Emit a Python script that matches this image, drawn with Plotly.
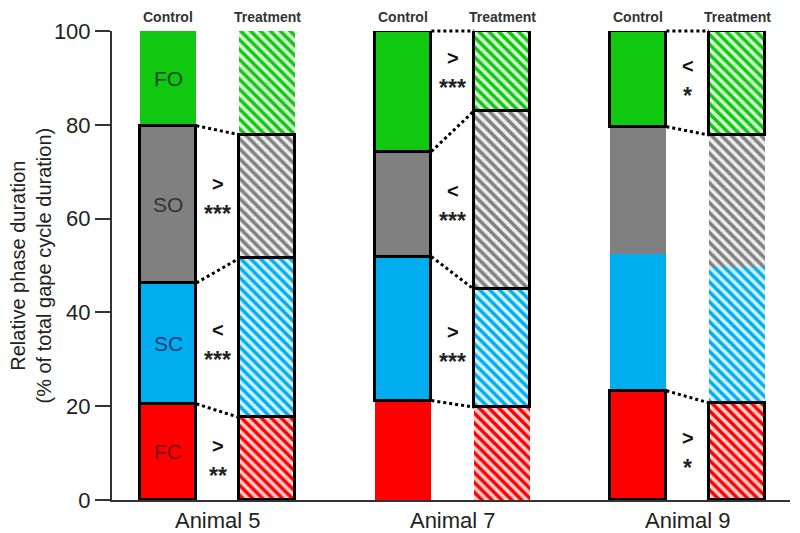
import plotly.graph_objects as go

# ---------------- data ----------------
animals = ["Animal 5", "Animal 7", "Animal 9"]
conditions = ["Control", "Treatment"]
phases = ["FC", "SC", "SO", "FO"]

# phase durations (% of total gape cycle duration), per animal
fc_control = [20.5, 21.2, 23.3]
sc_control = [25.8, 30.7, 29.1]
so_control = [33.5, 22.4, 27.2]
fo_control = [20.2, 25.7, 20.4]

fc_treatment = [17.6, 19.8, 20.7]
sc_treatment = [33.9, 25.1, 29.0]
so_treatment = [26.4, 38.1, 28.1]
fo_treatment = [22.1, 17.0, 22.2]

# comparison (control vs treatment) and significance per phase, per animal
fc_cmp = [">", "", ">"]
fc_sig = ["**", "", "*"]
sc_cmp = ["<", ">", ""]
sc_sig = ["***", "***", ""]
so_cmp = [">", "<", ""]
so_sig = ["***", "***", ""]
fo_cmp = ["", ">", "<"]
fo_sig = ["", "***", "*"]

y_ticks = [0, 20, 40, 60, 80, 100]

# ---------------- styling ----------------
FONT = "Liberation Sans, Arial, sans-serif"
colors = {"FC": "#FF0000", "SC": "#00AEEF", "SO": "#808080", "FO": "#10C810"}
tints = {"FC": "#FFD2D2", "SC": "#D2F2FF", "SO": "#EDEDED", "FO": "#D6F6D6"}
label_colors = {"FC": "#7A0A0A", "SC": "#1B3A78", "SO": "#333333", "FO": "#0B4A0B"}

ctrl = [fc_control, sc_control, so_control, fo_control]
treat = [fc_treatment, sc_treatment, so_treatment, fo_treatment]
cmps = [fc_cmp, sc_cmp, so_cmp, fo_cmp]
sigs = [fc_sig, sc_sig, so_sig, fo_sig]

n = len(animals)
group_pos = list(range(n))
offset = 0.21
bar_w = 0.238
xc = [g - offset for g in group_pos]
xt = [g + offset for g in group_pos]
y_range = [0, 100]


def to_paper(v):
    return (v - y_range[0]) / (y_range[1] - y_range[0])


def stack_bases(segs):
    out, run = [], [0.0] * n
    for s in segs:
        out.append(run[:])
        run = [r + v for r, v in zip(run, s)]
    return out


ctrl_base = stack_bases(ctrl)
treat_base = stack_bases(treat)

fig = go.Figure()

# fills
for i, ph in enumerate(phases):
    fig.add_trace(go.Bar(
        x=xc, y=ctrl[i], base=ctrl_base[i], width=bar_w,
        marker=dict(color=colors[ph], line=dict(width=0)),
        cliponaxis=False, showlegend=False, hoverinfo="skip"))
    fig.add_trace(go.Bar(
        x=xt, y=treat[i], base=treat_base[i], width=bar_w,
        marker=dict(color=tints[ph], line=dict(width=0),
                    pattern=dict(shape="\\", fgcolor=colors[ph], bgcolor=tints[ph],
                                 size=7, solidity=0.5, fillmode="replace")),
        cliponaxis=False, showlegend=False, hoverinfo="skip"))

# outlines for significant phases
for i, ph in enumerate(phases):
    widths = [3 if cmps[i][k] else 0 for k in range(n)]
    fig.add_trace(go.Bar(
        x=xc + xt, y=ctrl[i] + treat[i], base=ctrl_base[i] + treat_base[i],
        width=bar_w,
        marker=dict(color="rgba(0,0,0,0)", line=dict(color="black", width=widths + widths)),
        cliponaxis=False, showlegend=False, hoverinfo="skip"))

# dotted connectors between boundaries of significant phases
for k in range(n):
    bidx = set()
    for i in range(len(phases)):
        if cmps[i][k]:
            bidx.add(i)
            if i > 0:
                bidx.add(i - 1)
    for j in sorted(bidx):
        yc_ = ctrl_base[j][k] + ctrl[j][k]
        yt_ = treat_base[j][k] + treat[j][k]
        fig.add_shape(type="line", xref="x", yref="paper",
                      x0=xc[k] + bar_w / 2, y0=to_paper(yc_),
                      x1=xt[k] - bar_w / 2, y1=to_paper(yt_),
                      line=dict(color="black", width=3, dash="dot"))

# significance annotations
for k in range(n):
    for i in range(len(phases)):
        if not cmps[i][k]:
            continue
        lo = max(ctrl_base[i][k], treat_base[i][k])
        hi = min(ctrl_base[i][k] + ctrl[i][k], treat_base[i][k] + treat[i][k])
        mid = (lo + hi) / 2
        fig.add_annotation(x=group_pos[k], y=mid,
                           text="<b>%s</b>" % cmps[i][k].replace("<", "&lt;").replace(">", "&gt;"),
                           showarrow=False, yshift=13,
                           font=dict(family=FONT, size=20, color="#111"))
        fig.add_annotation(x=group_pos[k], y=mid, text="<b>%s</b>" % sigs[i][k],
                           showarrow=False, yshift=-17,
                           font=dict(family=FONT, size=23, color="#222"))

# phase labels inside first control bar
for i, ph in enumerate(phases):
    fig.add_annotation(x=xc[0], y=ctrl_base[i][0] + ctrl[i][0] / 2, text=ph,
                       showarrow=False,
                       font=dict(family=FONT, size=21, color=label_colors[ph]))

# condition headers
for k in range(n):
    for xx, lab in zip([xc[k], xt[k]], conditions):
        fig.add_annotation(x=xx, xref="x", y=1, yref="paper", yanchor="middle",
                           yshift=14, text="<b>%s</b>" % lab, showarrow=False,
                           font=dict(family=FONT, size=14, color="#333"))

# y axis title
fig.add_annotation(x=0, xref="paper", y=0.5, yref="paper", xanchor="center",
                   yanchor="middle", xshift=-82, textangle=-90, showarrow=False,
                   text="Relative phase duration<br>(% of total gape cycle duration)",
                   font=dict(family=FONT, size=20, color="#222"))

fig.update_layout(
    width=800, height=533,
    margin=dict(l=112, r=10, t=31, b=33, autoexpand=False),
    paper_bgcolor="white", plot_bgcolor="white",
    barmode="overlay", bargap=0,
    font=dict(family=FONT, color="#222"),
    showlegend=False,
)
fig.update_xaxes(range=[-0.45, 2.435], tickvals=group_pos, ticktext=animals,
                 showline=True, linewidth=2, linecolor="#333", ticks="",
                 showgrid=False, zeroline=False, automargin=False,
                 tickfont=dict(family=FONT, size=22, color="#222"))
fig.update_yaxes(range=y_range, tickvals=y_ticks, ticks="outside", ticklen=15,
                 tickwidth=2, tickcolor="#333", showline=True, linewidth=2,
                 linecolor="#333", showgrid=False, zeroline=False, automargin=False,
                 tickfont=dict(family=FONT, size=22, color="#222"))

fig.write_html("out.html", config={"displayModeBar": False},
               post_script="document.body.style.margin='0px';document.body.style.overflow='hidden';")
